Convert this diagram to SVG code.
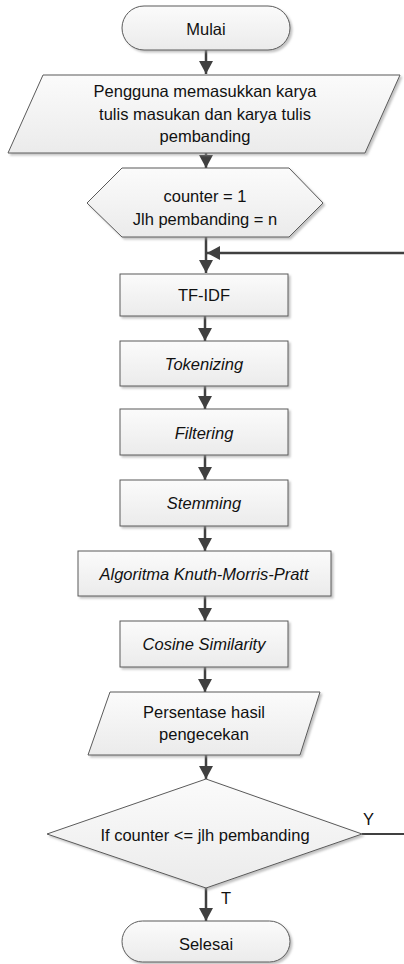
<svg xmlns="http://www.w3.org/2000/svg" width="404" height="964" viewBox="0 0 404 964">
<defs>
<linearGradient id="g" x1="0" y1="0" x2="0" y2="1">
<stop offset="0" stop-color="#fbfbfb"/>
<stop offset="1" stop-color="#ebebeb"/>
</linearGradient>
<filter id="sh" x="-10%" y="-10%" width="130%" height="140%">
<feDropShadow dx="2" dy="2" stdDeviation="1" flood-color="#9a9a9a" flood-opacity="0.6"/>
</filter>
<marker id="ah" viewBox="0 0 13 14" refX="13" refY="7" markerWidth="13" markerHeight="14" markerUnits="userSpaceOnUse" orient="auto">
<path d="M0,0 L13,7 L0,14 z" fill="#404040"/>
</marker>
</defs>
<style>
.s{fill:url(#g);stroke:#5a5a5a;stroke-width:1;filter:url(#sh)}
.t{font-family:"Liberation Sans",Arial,sans-serif;font-size:16.5px;fill:#111;text-anchor:middle}
.i{font-style:italic}
.c{stroke:#404040;stroke-width:2.5;fill:none}
.l{font-family:"Liberation Sans",Arial,sans-serif;font-size:16.5px;fill:#111}
</style>
<rect width="404" height="964" fill="#fff"/>
<g id="connectors">
<line class="c" x1="206" y1="50" x2="206" y2="74" marker-end="url(#ah)"/>
<line class="c" x1="206" y1="153" x2="206" y2="168" marker-end="url(#ah)"/>
<line class="c" x1="206" y1="237" x2="206" y2="273" marker-end="url(#ah)"/>
<line class="c" x1="404" y1="253" x2="207" y2="253" marker-end="url(#ah)"/>
<line class="c" x1="205" y1="316" x2="205" y2="341" marker-end="url(#ah)"/>
<line class="c" x1="205" y1="386" x2="205" y2="409" marker-end="url(#ah)"/>
<line class="c" x1="205" y1="455" x2="205" y2="480" marker-end="url(#ah)"/>
<line class="c" x1="205" y1="526" x2="205" y2="551" marker-end="url(#ah)"/>
<line class="c" x1="205" y1="596" x2="205" y2="621" marker-end="url(#ah)"/>
<line class="c" x1="205" y1="667" x2="205" y2="692" marker-end="url(#ah)"/>
<line class="c" x1="206" y1="755" x2="206" y2="779" marker-end="url(#ah)"/>
<line class="c" x1="206" y1="888" x2="206" y2="921" marker-end="url(#ah)"/>
<line x1="362" y1="834" x2="404" y2="834" stroke="#404040" stroke-width="1.8"/>
<text class="l" x="363" y="825">Y</text>
<text class="l" x="221" y="904">T</text>
</g>
<g id="mulai">
<rect class="s" x="122" y="6" width="168" height="44" rx="22"/>
<text class="t" x="206" y="35">Mulai</text>
</g>
<g id="input">
<polygon class="s" points="43,75 400,75 365,153 8,153"/>
<text class="t" x="205" y="97">Pengguna memasukkan karya</text>
<text class="t" x="205" y="119.5">tulis masukan dan karya tulis</text>
<text class="t" x="205" y="142">pembanding</text>
</g>
<g id="init">
<polygon class="s" points="87,203 122,168 289,168 323,203 289,237 122,237"/>
<text class="t" x="205" y="202">counter = 1</text>
<text class="t" x="205" y="225">Jlh pembanding = n</text>
</g>
<g id="tfidf">
<rect class="s" x="120" y="274" width="168" height="42"/>
<text class="t" x="204" y="301">TF-IDF</text>
</g>
<g id="tokenizing">
<rect class="s" x="120" y="341" width="168" height="45"/>
<text class="t i" x="204" y="370">Tokenizing</text>
</g>
<g id="filtering">
<rect class="s" x="120" y="409" width="168" height="46"/>
<text class="t i" x="204" y="439">Filtering</text>
</g>
<g id="stemming">
<rect class="s" x="120" y="480" width="168" height="46"/>
<text class="t i" x="204" y="509">Stemming</text>
</g>
<g id="kmp">
<rect class="s" x="78" y="551" width="253" height="45"/>
<text class="t i" x="204" y="580">Algoritma Knuth-Morris-Pratt</text>
</g>
<g id="cosine">
<rect class="s" x="120" y="621" width="168" height="46"/>
<text class="t i" x="204" y="650">Cosine Similarity</text>
</g>
<g id="output">
<polygon class="s" points="110,692 320,692 300,755 88,755"/>
<text class="t" x="204" y="718">Persentase hasil</text>
<text class="t" x="204" y="740">pengecekan</text>
</g>
<g id="decision">
<polygon class="s" points="206,779 362,834 206,888 47,834"/>
<text class="t" x="205" y="841">If counter &lt;= jlh pembanding</text>
</g>
<g id="selesai">
<rect class="s" x="122" y="921" width="168" height="41" rx="20.5"/>
<text class="t" x="206" y="950">Selesai</text>
</g>
</svg>
